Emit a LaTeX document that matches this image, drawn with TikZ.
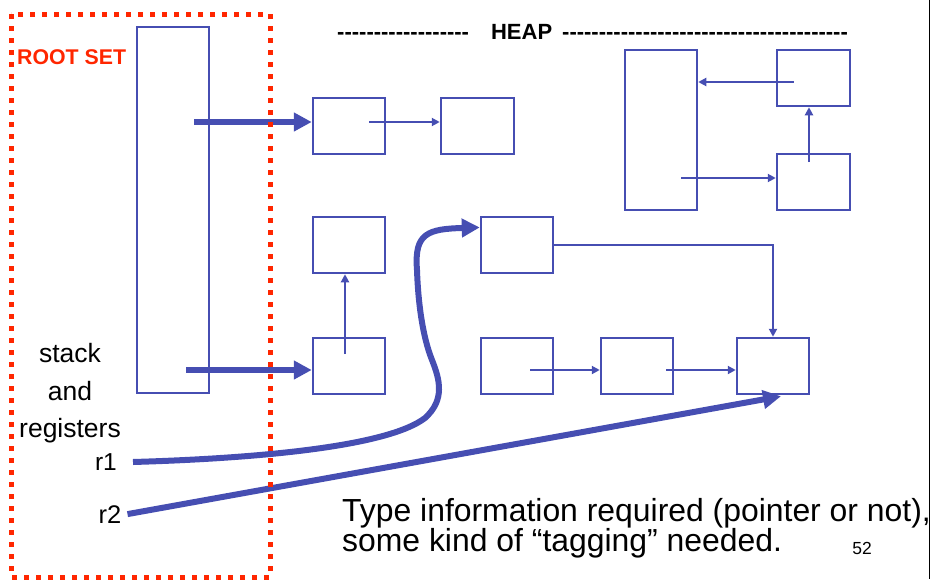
\documentclass[tikz,border=0pt]{standalone}
\usepackage{fontspec}
\setmainfont{Liberation Sans}
\usetikzlibrary{arrows.meta,calc}
\definecolor{ptrblue}{RGB}{70,78,178}
\definecolor{rootred}{RGB}{255,38,0}
\ExplSyntaxOn
\cs_new:Npn \hyphenrun #1 { \prg_replicate:nn {#1} { -{} } }
\ExplSyntaxOff
\tikzset{
  cell/.style={draw=ptrblue, line width=2.5pt, minimum width=72pt, minimum height=56pt, inner sep=0pt},
  link/.style={draw=ptrblue, line width=2pt, -{Triangle[length=8pt,width=8pt]}},
  rootlink/.style={draw=ptrblue, line width=6pt, -{Triangle[length=18pt,width=18pt]}},
  rootframe/.style={draw=rootred, line width=5pt, dash pattern=on 5pt off 7pt},
  plain/.style={inner sep=0pt, text=black},
}
\begin{document}
\begin{tikzpicture}[x=1pt, y=-1pt]
\useasboundingbox (0,0) rectangle (932,579);

% slide edge
\draw[line width=1.5pt] (929.5,0) -- (929.5,579);

% title of the heap area
\node[plain, anchor=base west, font=\fontsize{22}{24}\selectfont\bfseries] (heap) at (337,39)
  {\hyphenrun{18}\hspace{22pt}HEAP\hspace{10pt}\hyphenrun{39}};

% stack frame
\node[cell, minimum width=72pt, minimum height=366pt] (stack) at (173,210) {};

% heap cells
\node[cell] (A1) at (349,126) {};
\node[cell, minimum width=73pt] (A2) at (477.5,126) {};
\node[cell, minimum height=160pt] (T) at (661,130) {};
\node[cell, minimum width=73pt] (R1) at (813.5,78) {};
\node[cell, minimum width=73pt] (R2) at (813.5,182) {};
\node[cell] (B1) at (349,245) {};
\node[cell] (B2) at (349,366) {};
\node[cell] (C1) at (517,245) {};
\node[cell] (D1) at (517,366) {};
\node[cell] (D2) at (637,366) {};
\node[cell] (D3) at (773,366) {};

% pointers between heap cells
\draw[link] ($(A1.center)+(20,-4)$) coordinate (a1p) -- (a1p -| A2.west);
\draw[link] ($(R1.center)+(-20,4)$) coordinate (r1p) -- (r1p -| T.east);
\draw[link] ($(R2.center)+(-4.5,-20)$) coordinate (r2p) -- (r2p |- R1.south);
\draw[link] ($(T.center)+(20,48)$) coordinate (tp) -- (tp -| R2.west);
\draw[link] ($(B2.center)+(-4,-12)$) coordinate (b2p) -- (b2p |- B1.south);
\draw[link] (C1.east) -- (D3.north |- C1.east) -- (D3.north);
\draw[link] ($(D1.center)+(13,4)$) coordinate (d1p) -- (d1p -| D2.west);
\draw[link] ($(D2.center)+(29,4)$) coordinate (d2p) -- (d2p -| D3.west);

% roots held in the stack
\coordinate (A1in) at ($(A1.west)+(0,-4)$);
\coordinate (B2in) at ($(B2.west)+(0,4)$);
\draw[rootlink] ($(stack.east |- A1in)+(-16,0)$) -- (A1in);
\draw[rootlink] ($(stack.east |- B2in)+(-24,0)$) -- (B2in);

% register labels
\node[plain, anchor=base, font=\fontsize{26.5}{28}\selectfont] (lstack) at (70,362) {stack};
\node[plain, anchor=base, font=\fontsize{26.5}{28}\selectfont] (land) at (70,400) {and};
\node[plain, anchor=base, font=\fontsize{26.5}{28}\selectfont] (lregs) at (70,437.5) {registers};
\node[plain, anchor=base east, font=\fontsize{24.5}{26}\selectfont] (r1) at (117,470.5) {r1};
\node[plain, anchor=base east, font=\fontsize{25.5}{27}\selectfont] (r2) at (121.5,523) {r2};

% roots held in registers
\coordinate (C1in) at ($(C1.north west)!0.2!(C1.south west)$);
\draw[rootlink] (133,462) coordinate (r1s)
  .. controls (270,458) and (390,445) .. (425,418)
  .. controls (445,400) and (440,380) .. (432,360)
  .. controls (422,335) and (418,300) .. (417,270)
  .. controls (414,233) and (428,229) .. (C1in);
\coordinate (D3in) at ($(D3.south)+(8,1)$);
\draw[rootlink] ($(r2.east)+(6,0)$) -- (D3in);

% root set boundary
\draw[rootframe] (11,14) rectangle (270,577);
\node[plain, anchor=base west, text=rootred, font=\fontsize{21.3}{23}\selectfont\bfseries] (rootset) at (17,64) {ROOT SET};

% note
\node[plain, anchor=base west, font=\fontsize{31.9}{32}\selectfont] (note1) at (342,521.5) {Type information required (pointer or not),};
\node[plain, anchor=base west, font=\fontsize{31.9}{32}\selectfont] (note2) at (342,551.5) {some kind of “tagging” needed.};
\node[plain, anchor=base, font=\fontsize{17.5}{19}\selectfont] (page) at (862,554) {52};
\end{tikzpicture}
\end{document}
